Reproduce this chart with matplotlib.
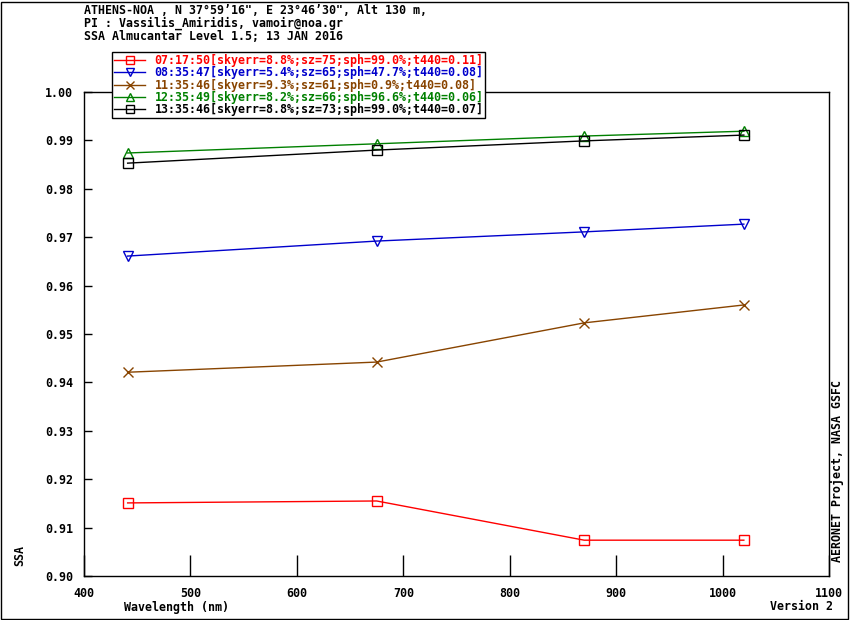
import matplotlib
matplotlib.use("Agg")
from matplotlib import pyplot as plt
from matplotlib.patches import Rectangle

# DATA
wavelengths = [441, 675, 870, 1020]
ssa_0717 = [0.9151, 0.9155, 0.9074, 0.9074]
ssa_0835 = [0.9661, 0.9692, 0.9711, 0.9727]
ssa_1135 = [0.9421, 0.9442, 0.9523, 0.9560]
ssa_1235 = [0.9874, 0.9893, 0.9909, 0.9919]
ssa_1335 = [0.9853, 0.9880, 0.9899, 0.9911]
labels = [
    "07:17:50[skyerr=8.8%;sz=75;sph=99.0%;t440=0.11]",
    "08:35:47[skyerr=5.4%;sz=65;sph=47.7%;t440=0.08]",
    "11:35:46[skyerr=9.3%;sz=61;sph=0.9%;t440=0.08]",
    "12:35:49[skyerr=8.2%;sz=66;sph=96.6%;t440=0.06]",
    "13:35:46[skyerr=8.8%;sz=73;sph=99.0%;t440=0.07]",
]
x_ticks = [400, 500, 600, 700, 800, 900, 1000, 1100]
y_ticks = [0.90, 0.91, 0.92, 0.93, 0.94, 0.95, 0.96, 0.97, 0.98, 0.99, 1.00]
header = [
    "ATHENS-NOA , N 37\u00b059\u201916\", E 23\u00b046\u201930\", Alt 130 m,",
    "PI : Vassilis_Amiridis, vamoir@noa.gr",
    "SSA Almucantar Level 1.5; 13 JAN 2016",
]

FONT = dict(family="DejaVu Sans Mono", fontweight="bold", fontsize=8.4)

series = [
    (ssa_0717, "#ff0000", "s"),
    (ssa_0835, "#0000cc", "v"),
    (ssa_1135, "#884400", "x"),
    (ssa_1235, "#008000", "^"),
    (ssa_1335, "#000000", "s"),
]


def main():
    fig = plt.figure(figsize=(8.5, 6.2), dpi=100)
    ax = fig.add_axes([84 / 850, 1 - 576 / 620, 745 / 850, 484 / 620])

    for (vals, color, marker), label in zip(series, labels):
        ax.plot(wavelengths, vals, color=color, lw=1, marker=marker,
                markersize=6.5, markerfacecolor="none", markeredgecolor=color,
                markeredgewidth=1, label=label)

    ax.set_xlim(400, 1100)
    ax.set_ylim(0.90, 1.00)
    ax.set_xticks(x_ticks)
    ax.set_yticks(y_ticks)
    ax.set_xticklabels([str(t) for t in x_ticks], **FONT)
    ax.set_yticklabels([f"{t:.2f}" for t in y_ticks], **FONT)
    ax.tick_params(axis="x", direction="in", length=15, width=1, pad=8)
    ax.tick_params(axis="y", direction="in", length=6, width=1, pad=8)
    for side in ax.spines.values():
        side.set_linewidth(1)

    leg = fig.legend(loc="upper left", bbox_to_anchor=(112 / 850, 1 - 52 / 620),
                     prop=dict(family="DejaVu Sans Mono", weight="bold", size=8.4),
                     labelcolor="linecolor", frameon=True, fancybox=False,
                     edgecolor="black", framealpha=1, borderpad=0.15,
                     borderaxespad=0, handlelength=2.7, handletextpad=0.8,
                     labelspacing=-0.05, markerscale=0.9)
    leg.get_frame().set_linewidth(1)

    # header lines
    for i, line in enumerate(header):
        fig.text(84 / 850, 1 - (10 + 13.3 * i) / 620, line, va="center", ha="left", **FONT)

    fig.text(124 / 850, 1 - 607 / 620, "Wavelength (nm)", va="center", ha="left", **FONT)
    fig.text(833 / 850, 1 - 607 / 620, "Version 2", va="center", ha="right", **FONT)
    fig.text(20 / 850, 1 - 555 / 620, "SSA", va="center", ha="center", rotation=90, **FONT)
    fig.text(837 / 850, 1 - 562 / 620, "AERONET Project, NASA GSFC", va="bottom",
             ha="center", rotation=90, **FONT)

    # outer frame
    fig.patches.append(Rectangle((1 / 850, 1 / 620), 847 / 850, 617 / 620,
                                 transform=fig.transFigure, fill=False,
                                 edgecolor="black", lw=1, zorder=-1))

    fig.savefig("out.png", dpi=100)


if __name__ == '__main__':
    main()
